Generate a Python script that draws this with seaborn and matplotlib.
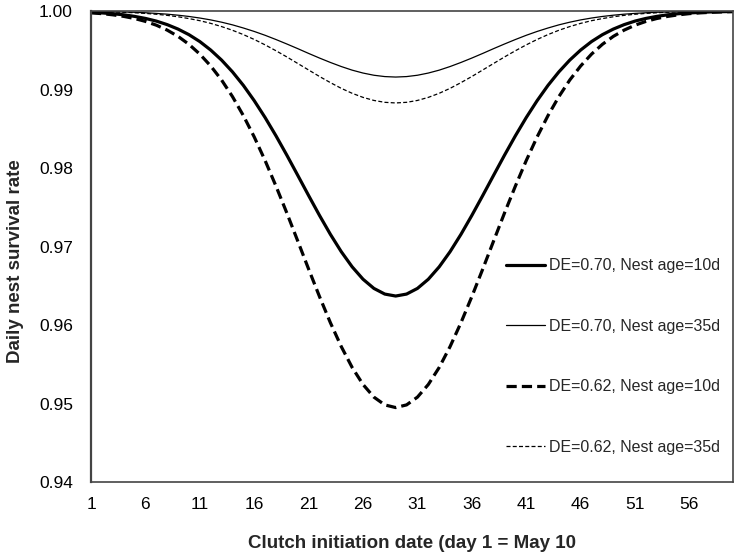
import pandas as pd
import seaborn as sns
import matplotlib.pyplot as plt
import matplotlib as mpl

sns.set_theme(style='white')
mpl.rcParams['font.family'] = ['Liberation Sans', 'DejaVu Sans']

# Clutch initiation day (day 1 = May 10)
days = list(range(1, 61))

# Daily nest survival rate
de70_age10 = [0.99984, 0.99977, 0.99967, 0.99953, 0.99933, 0.99907, 0.99873, 0.99828, 0.99771, 0.99700,
              0.99612, 0.99504, 0.99376, 0.99226, 0.99054, 0.98859, 0.98644, 0.98411, 0.98164, 0.97908,
              0.97650, 0.97397, 0.97156, 0.96935, 0.96742, 0.96584, 0.96467, 0.96395, 0.96370, 0.96395,
              0.96467, 0.96584, 0.96742, 0.96935, 0.97156, 0.97397, 0.97650, 0.97908, 0.98164, 0.98411,
              0.98644, 0.98859, 0.99054, 0.99226, 0.99376, 0.99504, 0.99612, 0.99700, 0.99771, 0.99828,
              0.99873, 0.99907, 0.99933, 0.99953, 0.99967, 0.99977, 0.99984, 0.99990, 0.99993, 0.99995]

de70_age35 = [0.99996, 0.99995, 0.99993, 0.99989, 0.99985, 0.99979, 0.99971, 0.99961, 0.99948, 0.99932,
              0.99912, 0.99888, 0.99859, 0.99825, 0.99785, 0.99741, 0.99692, 0.99638, 0.99581, 0.99522,
              0.99461, 0.99402, 0.99346, 0.99294, 0.99248, 0.99211, 0.99183, 0.99166, 0.99160, 0.99166,
              0.99183, 0.99211, 0.99248, 0.99294, 0.99346, 0.99402, 0.99461, 0.99522, 0.99581, 0.99638,
              0.99692, 0.99741, 0.99785, 0.99825, 0.99859, 0.99888, 0.99912, 0.99932, 0.99948, 0.99961,
              0.99971, 0.99979, 0.99985, 0.99989, 0.99993, 0.99995, 0.99996, 0.99998, 0.99998, 0.99999]

de62_age10 = [0.99978, 0.99968, 0.99953, 0.99933, 0.99906, 0.99869, 0.99821, 0.99758, 0.99678, 0.99577,
              0.99452, 0.99301, 0.99122, 0.98911, 0.98669, 0.98397, 0.98096, 0.97770, 0.97427, 0.97071,
              0.96713, 0.96363, 0.96030, 0.95726, 0.95460, 0.95243, 0.95082, 0.94983, 0.94949, 0.94983,
              0.95082, 0.95243, 0.95460, 0.95726, 0.96030, 0.96363, 0.96713, 0.97071, 0.97427, 0.97770,
              0.98096, 0.98397, 0.98669, 0.98911, 0.99122, 0.99301, 0.99452, 0.99577, 0.99678, 0.99758,
              0.99821, 0.99869, 0.99906, 0.99933, 0.99953, 0.99968, 0.99978, 0.99985, 0.99990, 0.99994]

de62_age35 = [0.99995, 0.99993, 0.99990, 0.99985, 0.99979, 0.99971, 0.99960, 0.99946, 0.99928, 0.99905,
              0.99878, 0.99844, 0.99803, 0.99756, 0.99701, 0.99639, 0.99570, 0.99495, 0.99416, 0.99333,
              0.99250, 0.99167, 0.99089, 0.99016, 0.98953, 0.98901, 0.98862, 0.98838, 0.98830, 0.98838,
              0.98862, 0.98901, 0.98953, 0.99016, 0.99089, 0.99167, 0.99250, 0.99333, 0.99416, 0.99495,
              0.99570, 0.99639, 0.99701, 0.99756, 0.99803, 0.99844, 0.99878, 0.99905, 0.99928, 0.99946,
              0.99960, 0.99971, 0.99979, 0.99985, 0.99990, 0.99993, 0.99995, 0.99997, 0.99998, 0.99999]

labels = ['DE=0.70, Nest age=10d', 'DE=0.70, Nest age=35d',
          'DE=0.62, Nest age=10d', 'DE=0.62, Nest age=35d']
x_ticks = [1, 6, 11, 16, 21, 26, 31, 36, 41, 46, 51, 56]
y_ticks = [0.94, 0.95, 0.96, 0.97, 0.98, 0.99, 1.00]

fig = plt.figure(figsize=(7.4, 5.56), dpi=100)
ax = fig.add_axes([0.123, 0.133, 0.8675, 0.847])

# line styles: thick solid, thin solid, thick dashed, thin dashed
styles = [
    dict(lw=2.3, ls='-'),
    dict(lw=0.9, ls='-'),
    dict(lw=2.3, ls=(0, (3.2, 1.6))),
    dict(lw=0.9, ls=(0, (3.2, 1.8))),
]
for vals, lab, st in zip([de70_age10, de70_age35, de62_age10, de62_age35], labels, styles):
    df = pd.DataFrame({'day': days, 'dsr': vals})
    sns.lineplot(data=df, x='day', y='dsr', ax=ax, color='black',
                 linewidth=st['lw'], linestyle=st['ls'], label=lab)

ax.set_xlim(1, 60)
ax.set_ylim(0.94, 1.00)
ax.set_xticks(x_ticks)
ax.set_yticks(y_ticks)
ax.set_yticklabels([f'{v:.2f}' for v in y_ticks])
ax.tick_params(axis='both', direction='out', length=5, width=0.8, colors='#555555',
               labelcolor='black', labelsize=12.5)
ax.tick_params(axis='x', pad=6)
ax.tick_params(axis='y', pad=8)

for sp in ax.spines.values():
    sp.set_color('#444444')
    sp.set_linewidth(1.2)
ax.spines['left'].set_linewidth(1.6)

ax.set_xlabel('Clutch initiation date (day 1 = May 10', fontsize=13.5, fontweight='bold', labelpad=16)
ax.set_ylabel('Daily nest survival rate', fontsize=13.5, fontweight='bold')
ax.yaxis.set_label_coords(-0.105, 0.47)

ax.legend(loc='upper left', bbox_to_anchor=(0.647, 0.475), frameon=False, fontsize=11.5,
          labelspacing=2.85, handlelength=2.4, handletextpad=0.25, borderpad=0, borderaxespad=0)

plt.savefig('out.png', dpi=100)
